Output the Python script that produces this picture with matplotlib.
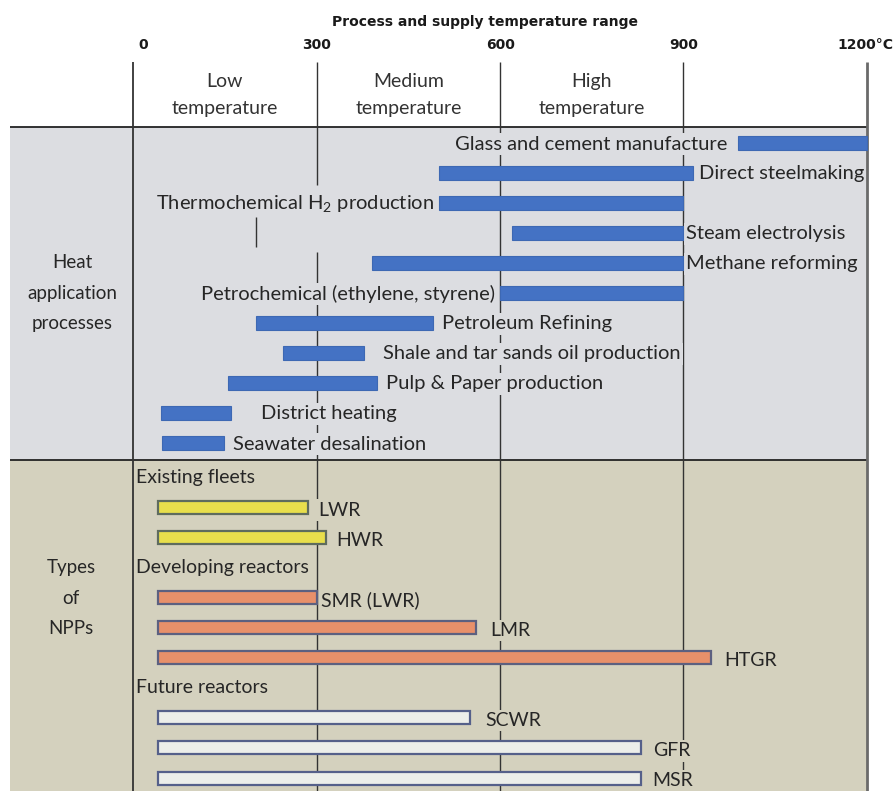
import matplotlib
matplotlib.use("Agg")
import matplotlib.pyplot as plt
from matplotlib.patches import Rectangle

plt.rcParams["font.family"] = ["Lato", "DejaVu Sans"]
plt.rcParams["mathtext.fontset"] = "custom"
plt.rcParams["mathtext.rm"] = "Lato"
plt.rcParams["mathtext.default"] = "regular"

# temperature axis
tick_values = [0, 300, 600, 900, 1200]
tick_labels = ["0", "300", "600", "900", "1200°C"]
range_names = ["Low\ntemperature", "Medium\ntemperature", "High\ntemperature"]
range_centers = [150, 450, 750]

# heat application processes (°C)
process_names = [
    "Glass and cement manufacture",
    "Direct steelmaking",
    "Thermochemical H$_2$ production",
    "Steam electrolysis",
    "Methane reforming",
    "Petrochemical (ethylene, styrene)",
    "Petroleum Refining",
    "Shale and tar sands oil production",
    "Pulp & Paper production",
    "District heating",
    "Seawater desalination",
]
process_start = [990, 500, 500, 620, 390, 600, 200, 245, 155, 45, 47]
process_end = [1200, 915, 900, 900, 900, 900, 490, 378, 398, 160, 148]

# nuclear power plants (°C)
group_names = ["Existing fleets", "Developing reactors", "Future reactors"]
reactor_names = [["LWR", "HWR"], ["SMR (LWR)", "LMR", "HTGR"], ["SCWR", "GFR", "MSR"]]
reactor_start = [[40, 40], [40, 40, 40], [40, 40, 40]]
reactor_end = [[285, 315], [300, 560, 945], [550, 830, 830]]

# label placement (side of bar, gap in px)
process_side = ["left", "right", "left", "right", "right", "left",
                "right", "right", "right", "right", "right"]
process_gap = [11, 6, 5, 3, 3, 5, 9, 19, 9, 30, 9]
reactor_gap = [[11, 10], [4, 15, 13], [16, 12, 12]]

GREY = "#dcdde1"
TAN = "#d4d1be"
BLUE = "#4472c4"
TXT = "#262626"
group_face = ["#e8df4c", "#e8906a", "#eceeea"]
group_edge = ["#5e6c5e", "#5c6080", "#55608a"]

PX = 0.72  # points per pixel at dpi 100

fig = plt.figure(figsize=(8.95, 7.91), dpi=100)
ax = fig.add_axes([0, 0, 1, 1])
ax.set_xlim(-218, 1246)
ax.set_ylim(791, 0)
ax.axis("off")

# background bands
ax.add_patch(Rectangle((-202, 127), 1402, 333, facecolor=GREY, edgecolor="none", zorder=0))
ax.add_patch(Rectangle((-202, 460), 1402, 331, facecolor=TAN, edgecolor="none", zorder=0))
ax.hlines([127, 460], -202, 1200, color="#222222", lw=1.3, zorder=1)

# vertical guides
ax.vlines(0, 62, 791, color="#333333", lw=1.3, zorder=1)
ax.vlines(300, 62, 185, color="#333333", lw=1.0, zorder=1)
ax.vlines(300, 252, 791, color="#333333", lw=1.0, zorder=1)
ax.vlines(200, 217, 247, color="#333333", lw=1.0, zorder=1)
ax.vlines([600, 900], 62, 791, color="#333333", lw=1.0, zorder=1)
ax.vlines(1200, 62, 791, color="#6a6a6a", lw=2.0, zorder=1)

# header
ax.text(575, 22, "Process and supply temperature range", ha="center", va="center",
        fontsize=10, fontweight="bold", family="DejaVu Sans", color="#1a1a1a")
for v, lab in zip(tick_values, tick_labels):
    if v == 0:
        ax.annotate(lab, (v, 45), xytext=(5 * PX, 0), textcoords="offset points",
                    ha="left", va="center", fontsize=10, fontweight="bold",
                    family="DejaVu Sans", color="#1a1a1a")
    elif v == 1200:
        ax.annotate(lab, (v, 45), xytext=(27 * PX, 0), textcoords="offset points",
                    ha="right", va="center", fontsize=10, fontweight="bold",
                    family="DejaVu Sans", color="#1a1a1a")
    else:
        ax.annotate(lab, (v, 45), xytext=(0, 0), textcoords="offset points",
                    ha="center", va="center", fontsize=10, fontweight="bold",
                    family="DejaVu Sans", color="#1a1a1a")
for c, lab in zip(range_centers, range_names):
    ax.text(c, 95, lab, ha="center", va="center", fontsize=14, color="#333333",
            linespacing=1.72)

# row labels
ax.text(-100, 293, "Heat\napplication\nprocesses", ha="center", va="center",
        fontsize=13.5, color=TXT, linespacing=1.98)
ax.text(-102, 598, "Types\nof\nNPPs", ha="center", va="center",
        fontsize=13.5, color=TXT, linespacing=1.98)

box_grey = dict(facecolor=GREY, edgecolor="none", pad=1.5)
box_tan = dict(facecolor=TAN, edgecolor="none", pad=1.5)

# process bars
proc_y = [143 + 30 * i for i in range(len(process_names))]
ax.barh(proc_y, [e - s for s, e in zip(process_start, process_end)], left=process_start,
        height=14, color=BLUE, edgecolor="#3d68b3", lw=0.8, zorder=3)
for y, s, e, name, side, gap in zip(proc_y, process_start, process_end,
                                     process_names, process_side, process_gap):
    if side == "left":
        ax.annotate(name, (s, y), xytext=(-gap * PX, -1 * PX), textcoords="offset points",
                    ha="right", va="center", fontsize=14.5, color=TXT, bbox=box_grey, zorder=2)
    else:
        ax.annotate(name, (e, y), xytext=(gap * PX, -1 * PX), textcoords="offset points",
                    ha="left", va="center", fontsize=14.5, color=TXT, bbox=box_grey, zorder=2)

# reactor bars
row = 0
for g, gname in enumerate(group_names):
    ax.annotate(gname, (0, 477 + 30.1 * row), xytext=(3 * PX, 0), textcoords="offset points",
                ha="left", va="center", fontsize=14, color=TXT, zorder=2)
    row += 1
    ys = []
    for k in range(len(reactor_names[g])):
        ys.append(477 + 30.1 * row)
        row += 1
    widths = [e - s for s, e in zip(reactor_start[g], reactor_end[g])]
    ax.barh(ys, widths, left=reactor_start[g], height=13, color=group_face[g],
            edgecolor=group_edge[g], lw=1.6, zorder=3)
    for y, e, name, gap in zip(ys, reactor_end[g], reactor_names[g], reactor_gap[g]):
        ax.annotate(name, (e, y), xytext=(gap * PX, -3 * PX), textcoords="offset points",
                    ha="left", va="center", fontsize=14, color=TXT, bbox=box_tan, zorder=2)

fig.savefig("out.png", dpi=100)
